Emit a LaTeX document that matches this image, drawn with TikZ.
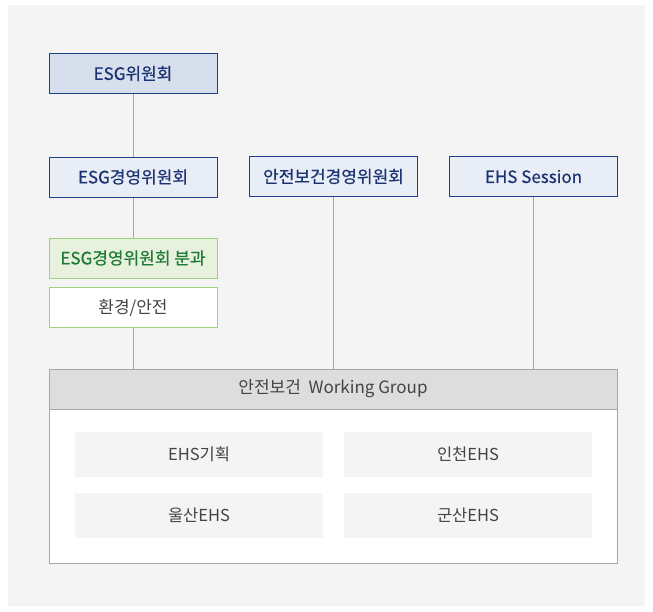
\documentclass[tikz,border=0pt]{standalone}
\usepackage{fontspec}
\setmainfont{Noto Sans CJK KR}
\newfontfamily\medfont[FakeBold=0.5]{Noto Sans CJK KR}
\usepackage{tikz}
\usetikzlibrary{positioning,calc}

\definecolor{bggray}{HTML}{F4F4F4}
\definecolor{navy}{HTML}{1F3E8C}
\definecolor{navytext}{HTML}{1B3372}
\definecolor{bluefillA}{HTML}{D7DEEC}
\definecolor{bluefillB}{HTML}{E9EDF6}
\definecolor{greenline}{HTML}{9DD17F}
\definecolor{greenfill}{HTML}{E7F1DD}
\definecolor{greentext}{HTML}{1E7A34}
\definecolor{linkgray}{HTML}{A6A6A6}
\definecolor{headfill}{HTML}{DDDDDD}
\definecolor{cellfill}{HTML}{F4F4F4}
\definecolor{darktext}{HTML}{444444}

\begin{document}
\begin{tikzpicture}[x=1pt,y=-1pt,
  every node/.style={font=\fontsize{17}{20}\selectfont,inner sep=0pt},
  board/.style={draw=navy,line width=1pt,minimum width=168pt,minimum height=40pt,text=navytext,font=\fontsize{17}{20}\medfont},
  subbox/.style={draw=greenline,line width=1pt,minimum width=168pt,minimum height=40pt},
  cell/.style={fill=cellfill,minimum width=248pt,minimum height=45pt,text=darktext,font=\fontsize{16.5}{19}\selectfont},
  link/.style={draw=linkgray,line width=1pt}]
  \useasboundingbox (0,0) rectangle (653,611);
  \fill[bggray] (8,5) rectangle (645,606);

  % committees
  \node[board,fill=bluefillA] (esg) at (133,73.5) {ESG위원회};
  \node[board,fill=bluefillB] (esgmgmt) at (133,177) {ESG경영위원회};
  \node[board,fill=bluefillB] (safety) at (333.5,176.5) {안전보건경영위원회};
  \node[board,fill=bluefillB] (ehs) at (533.5,176.5) {EHS Session};

  % subcommittee
  \node[subbox,fill=greenfill,text=greentext,font=\fontsize{17}{20}\medfont] (sub) at (133,258) {ESG경영위원회 분과};
  \node[subbox,fill=white,text=darktext] (envsafe) at (133,307.5) {환경/안전};

  % working group
  \node[draw=linkgray,fill=white,line width=1pt,minimum width=568pt,minimum height=154pt] (wgbody) at (333,486) {};
  \node[draw=linkgray,fill=headfill,line width=1pt,minimum width=568pt,minimum height=40pt,text=darktext] (wghead) at (333,389) {안전보건\ \ Working Group};

  \node[cell] (plan) at (199,454.5) {EHS기획};
  \node[cell] (incheon) at (468,454.5) {인천EHS};
  \node[cell] (ulsan) at (199,515.5) {울산EHS};
  \node[cell] (gunsan) at (468,515.5) {군산EHS};

  % connectors
  \draw[link] (esg) -- (esgmgmt);
  \draw[link] (esgmgmt) -- (sub);
  \draw[link] (envsafe.south) -- (envsafe.south |- wghead.north);
  \draw[link] (safety.south) -- (safety.south |- wghead.north);
  \draw[link] (ehs.south) -- (ehs.south |- wghead.north);
\end{tikzpicture}
\end{document}
